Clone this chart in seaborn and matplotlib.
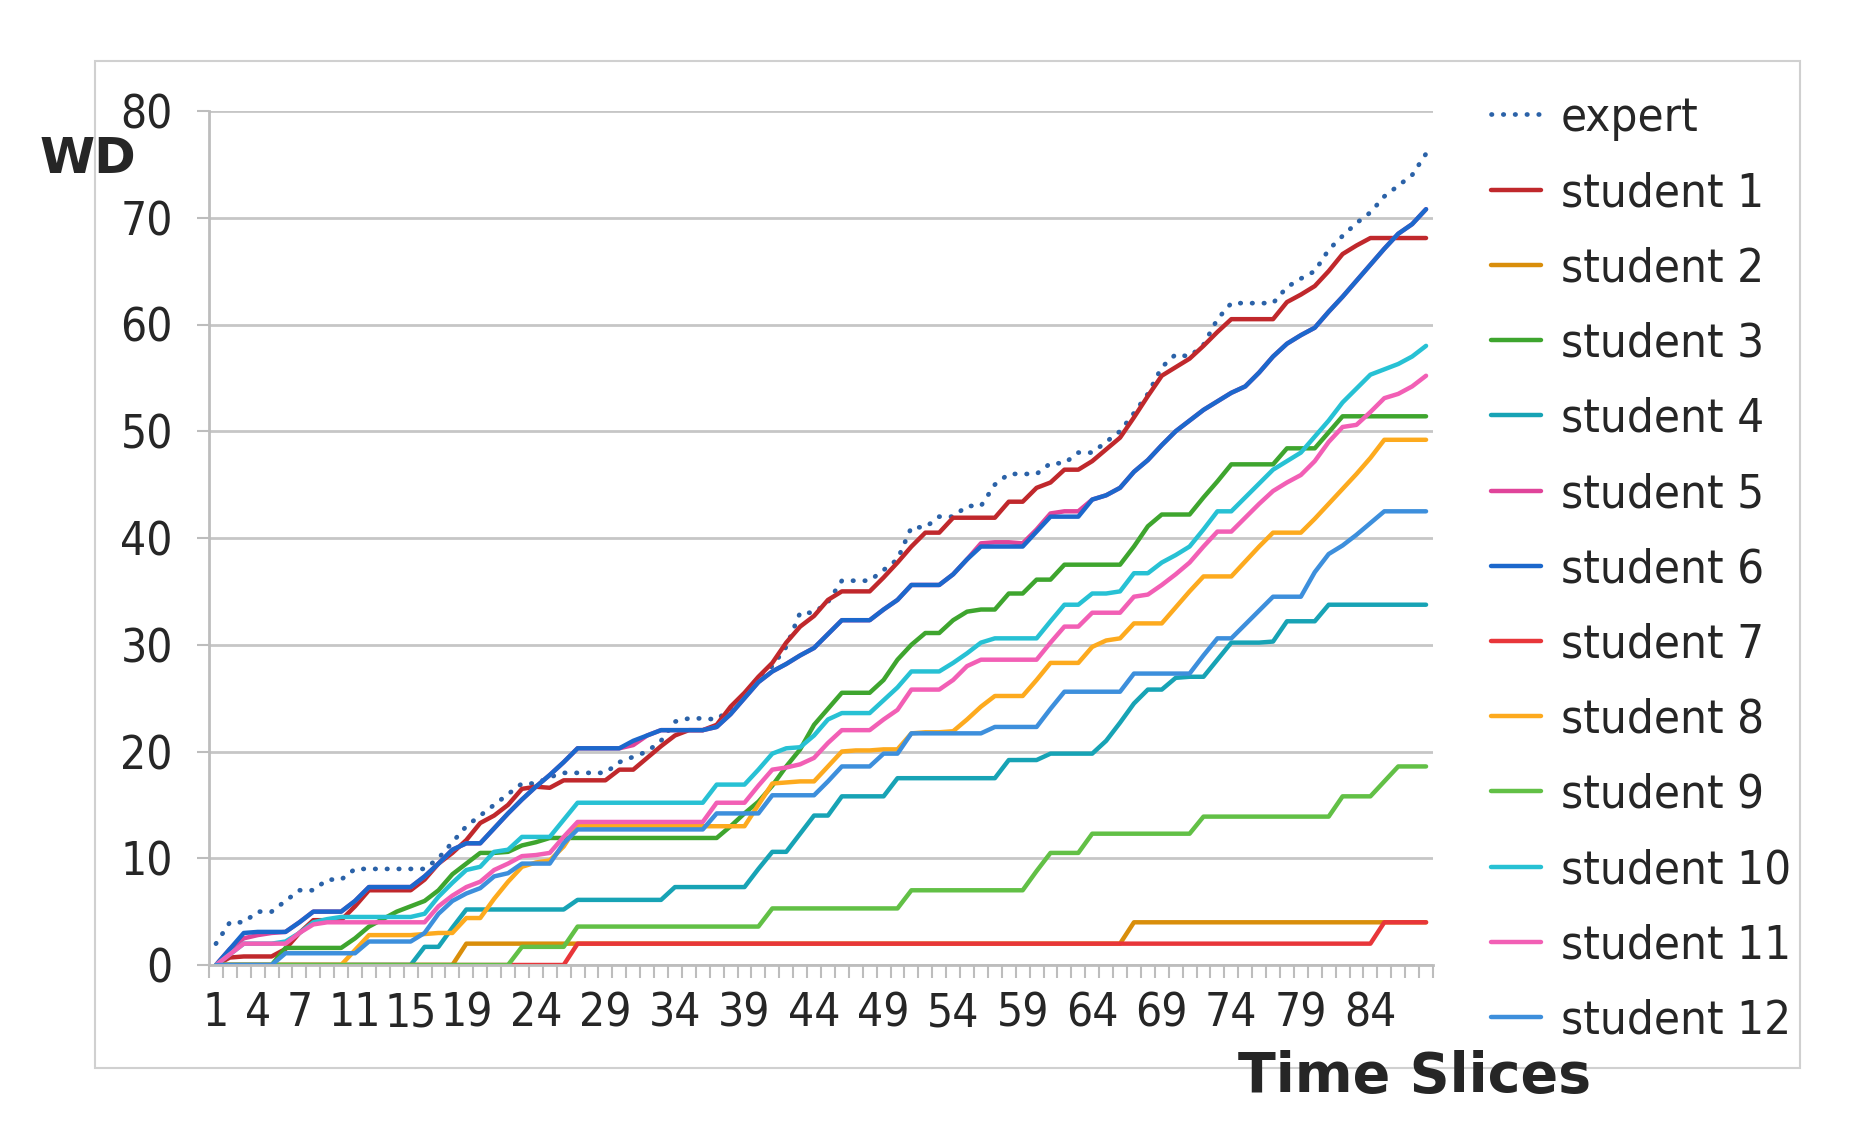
import numpy as np
import pandas as pd
import matplotlib
matplotlib.use("Agg")
import matplotlib.pyplot as plt
import seaborn as sns
from matplotlib.patches import Rectangle
from matplotlib import font_manager as fm


## time slices on the category axis
slices = list(range(1, 89))
tick_slices = [1, 4, 7, 11, 15, 19, 24, 29, 34, 39, 44, 49, 54, 59, 64, 69, 74, 79, 84]

## WD values per time slice
expert = [2, 4, 4, 5, 5, 6, 7, 7, 8, 8,
          9, 9, 9, 9, 9, 9, 10, 11.5, 13, 14,
          15, 16, 17, 17, 17.6, 18, 18, 18, 18, 19,
          19.5, 20, 21, 22.8, 23.1, 23.1, 23, 24, 25.2, 27,
          28, 29.8, 33, 33, 34, 36, 36, 36, 37, 38,
          41, 41, 42, 42, 43, 43, 45, 46, 46, 46,
          47, 47, 48, 48, 49, 50, 51.7, 53.5, 56, 57.2,
          57, 58.1, 60.5, 62, 62, 62, 62, 63.5, 64.3, 65,
          67, 68.3, 69.5, 70.5, 72, 73, 74, 76]

student1 = [0, 0.7, 0.8, 0.8, 0.8, 1.5, 3, 4.2, 4.2, 4.2,
            5.5, 7, 7, 7, 7, 8, 9.5, 10.5, 11.7, 13.3,
            14, 15, 16.5, 16.7, 16.6, 17.3, 17.3, 17.3, 17.3, 18.3,
            18.3, 19.4, 20.5, 21.5, 22, 22, 22.5, 24.2, 25.5, 27,
            28.3, 30.2, 31.7, 32.7, 34.2, 35, 35, 35, 36.3, 37.7,
            39.2, 40.5, 40.5, 41.9, 41.9, 41.9, 41.9, 43.4, 43.4, 44.7,
            45.2, 46.4, 46.4, 47.2, 48.3, 49.4, 51.3, 53.3, 55.2, 56,
            56.8, 58, 59.3, 60.5, 60.5, 60.5, 60.5, 62.1, 62.8, 63.6,
            65, 66.6, 67.4, 68.1, 68.1, 68.1, 68.1, 68.1]

student2 = [0] * 18 + [2] * 48 + [4] * 22

student3 = [0, 0, 0, 0, 0, 1.6, 1.6, 1.6, 1.6, 1.6,
            2.5, 3.6, 4.3, 5, 5.5, 6, 7, 8.5, 9.5, 10.5,
            10.5, 10.6, 11.2, 11.5, 11.9, 11.9, 11.9, 11.9, 11.9, 11.9,
            11.9, 11.9, 11.9, 11.9, 11.9, 11.9, 11.9, 13, 14.2, 15.3,
            16.8, 18.6, 20.2, 22.5, 24, 25.5, 25.5, 25.5, 26.7, 28.6,
            30, 31.1, 31.1, 32.3, 33.1, 33.3, 33.3, 34.8, 34.8, 36.1,
            36.1, 37.5, 37.5, 37.5, 37.5, 37.5, 39.2, 41.1, 42.2, 42.2,
            42.2, 43.8, 45.3, 46.9, 46.9, 46.9, 46.9, 48.4, 48.4, 48.4,
            49.9, 51.4, 51.4, 51.4, 51.4, 51.4, 51.4, 51.4]

student4 = [0, 0, 0, 0, 0, 0, 0, 0, 0, 0,
            0, 0, 0, 0, 0, 1.7, 1.7, 3.5, 5.2, 5.2,
            5.2, 5.2, 5.2, 5.2, 5.2, 5.2, 6.1, 6.1, 6.1, 6.1,
            6.1, 6.1, 6.1, 7.3, 7.3, 7.3, 7.3, 7.3, 7.3, 9,
            10.6, 10.6, 12.3, 14, 14, 15.8, 15.8, 15.8, 15.8, 17.5,
            17.5, 17.5, 17.5, 17.5, 17.5, 17.5, 17.5, 19.2, 19.2, 19.2,
            19.8, 19.8, 19.8, 19.8, 21, 22.7, 24.5, 25.8, 25.8, 26.9,
            27, 27, 28.6, 30.2, 30.2, 30.2, 30.3, 32.2, 32.2, 32.2,
            33.75, 33.75, 33.75, 33.75, 33.75, 33.75, 33.75, 33.75]

student5 = [0, 1.5, 2.5, 2.8, 3, 3.1, 4, 5, 5, 5,
            6, 7.3, 7.3, 7.3, 7.3, 8.3, 9.5, 10.8, 11.4, 11.4,
            12.8, 14.2, 15.5, 16.7, 17.8, 19, 20.3, 20.3, 20.3, 20.3,
            20.6, 21.5, 22, 22, 22, 22, 22.3, 23.5, 25, 26.5,
            27.5, 28.2, 29, 29.7, 31, 32.3, 32.3, 32.3, 33.3, 34.2,
            35.6, 35.6, 35.6, 36.6, 38, 39.5, 39.6, 39.6, 39.5, 40.8,
            42.3, 42.5, 42.5, 43.6, 44, 44.7, 46.2, 47.3, 48.7, 50,
            51, 52, 52.8, 53.6, 54.2, 55.5, 57, 58.2, 59, 59.7,
            61.2, 62.6, 64.1, 65.6, 67.1, 68.5, 69.4, 70.8]

student6 = [0, 1.5, 3, 3.1, 3.1, 3.1, 4, 5, 5, 5,
            6, 7.3, 7.3, 7.3, 7.3, 8.3, 9.5, 10.8, 11.4, 11.4,
            12.8, 14.2, 15.5, 16.7, 17.8, 19, 20.3, 20.3, 20.3, 20.3,
            21, 21.5, 22, 22, 22, 22, 22.3, 23.5, 25, 26.5,
            27.5, 28.2, 29, 29.7, 31, 32.3, 32.3, 32.3, 33.3, 34.2,
            35.6, 35.6, 35.6, 36.6, 38, 39.2, 39.2, 39.2, 39.2, 40.6,
            42, 42, 42, 43.6, 44, 44.7, 46.2, 47.3, 48.7, 50,
            51, 52, 52.8, 53.6, 54.2, 55.5, 57, 58.2, 59, 59.7,
            61.2, 62.6, 64.1, 65.6, 67.1, 68.5, 69.4, 70.8]

student7 = [0] * 26 + [2] * 58 + [4] * 4

student8 = [0, 0, 0, 0, 0, 0, 0, 0, 0, 0,
            1.4, 2.8, 2.8, 2.8, 2.8, 2.9, 3, 3, 4.4, 4.4,
            6.2, 7.8, 9.2, 9.6, 9.8, 11.1, 13.1, 13, 13, 13,
            13, 13, 13, 13, 13, 13, 13, 13, 13, 15,
            17, 17.1, 17.2, 17.2, 18.6, 20, 20.1, 20.1, 20.2, 20.2,
            21.7, 21.8, 21.8, 21.9, 23, 24.2, 25.2, 25.2, 25.2, 26.7,
            28.3, 28.3, 28.3, 29.8, 30.4, 30.6, 32, 32, 32, 33.5,
            35, 36.4, 36.4, 36.4, 37.8, 39.2, 40.5, 40.5, 40.5, 41.8,
            43.2, 44.6, 46, 47.5, 49.2, 49.2, 49.2, 49.2]

student9 = [0] * 22 + [1.7] * 4 + [3.6] * 14 + [5.3] * 10 + [7] * 9 + \
           [8.8, 10.5, 10.5, 10.5] + [12.3] * 8 + [13.9] * 10 + \
           [15.8, 15.8, 15.8, 17.2, 18.6, 18.6, 18.6]

student10 = [0, 1, 2, 2, 2, 2.2, 3, 4, 4.3, 4.5,
             4.5, 4.5, 4.5, 4.5, 4.5, 4.8, 6.4, 7.7, 8.9, 9.2,
             10.6, 10.8, 12, 12, 12, 13.6, 15.2, 15.2, 15.2, 15.2,
             15.2, 15.2, 15.2, 15.2, 15.2, 15.2, 16.9, 16.9, 16.9, 18.3,
             19.8, 20.3, 20.4, 21.5, 23, 23.6, 23.6, 23.6, 24.8, 26,
             27.5, 27.5, 27.5, 28.3, 29.2, 30.2, 30.6, 30.6, 30.6, 30.6,
             32.2, 33.75, 33.75, 34.8, 34.8, 35, 36.7, 36.7, 37.7, 38.4,
             39.2, 40.8, 42.5, 42.5, 43.8, 45.1, 46.4, 47.2, 48, 49.5,
             51, 52.7, 54, 55.3, 55.8, 56.3, 57, 58]

student11 = [0, 1, 2, 2, 2, 2, 3, 3.8, 4, 4,
             4, 4, 4, 4, 4, 4, 5.5, 6.5, 7.3, 7.8,
             8.9, 9.5, 10.2, 10.3, 10.5, 12, 13.4, 13.4, 13.4, 13.4,
             13.4, 13.4, 13.4, 13.4, 13.4, 13.4, 15.2, 15.2, 15.2, 16.8,
             18.3, 18.5, 18.8, 19.4, 20.8, 22, 22, 22, 23, 23.9,
             25.8, 25.8, 25.8, 26.7, 28, 28.6, 28.6, 28.6, 28.6, 28.6,
             30.2, 31.7, 31.7, 33, 33, 33, 34.5, 34.7, 35.6, 36.6,
             37.7, 39.2, 40.6, 40.6, 41.9, 43.2, 44.4, 45.2, 45.9, 47.2,
             49, 50.4, 50.6, 51.8, 53.1, 53.5, 54.2, 55.2]

student12 = [0, 0, 0, 0, 0, 1.1, 1.1, 1.1, 1.1, 1.1,
             1.1, 2.2, 2.2, 2.2, 2.2, 3, 4.8, 6, 6.7, 7.2,
             8.3, 8.6, 9.5, 9.5, 9.5, 11.4, 12.7, 12.7, 12.7, 12.7,
             12.7, 12.7, 12.7, 12.7, 12.7, 12.7, 14.2, 14.2, 14.2, 14.2,
             15.9, 15.9, 15.9, 15.9, 17.2, 18.6, 18.6, 18.6, 19.8, 19.8,
             21.7, 21.7, 21.7, 21.7, 21.7, 21.7, 22.3, 22.3, 22.3, 22.3,
             24, 25.6, 25.6, 25.6, 25.6, 25.6, 27.3, 27.3, 27.3, 27.3,
             27.3, 29, 30.6, 30.6, 31.9, 33.2, 34.5, 34.5, 34.5, 36.8,
             38.5, 39.3, 40.3, 41.4, 42.5, 42.5, 42.5, 42.5]

names = ["expert"] + ["student %d" % k for k in range(1, 13)]
series = [expert, student1, student2, student3, student4, student5, student6,
          student7, student8, student9, student10, student11, student12]
colors = ["#2b62a8", "#c0282c", "#d98e0b", "#3ea52e", "#17a3b5", "#e0449a",
          "#1c68cc", "#e8363a", "#fdaa1e", "#62c046", "#27c1d4", "#f25fb5",
          "#3d8fdc"]


sns.set_style("white")

## the chart uses a narrow face; take a condensed one if the box has it
pref = ["DejaVu Sans", "Noto Sans", "Open Sans", "Roboto", "Liberation Sans"]
cond = [f.name for f in fm.fontManager.ttflist
        if f.stretch in ("condensed", "semi-condensed", "extra-condensed")
        or "Narrow" in f.name or "Condensed" in f.name]
cond_fam = None
for p in pref:
    hits = [n for n in cond if n.startswith(p)]
    if hits:
        cond_fam = hits[0]
        break
if cond_fam is None and cond:
    cond_fam = cond[0]

if cond_fam:
    plt.rcParams['font.family'] = [cond_fam, 'DejaVu Sans']
    plt.rcParams['font.stretch'] = 'condensed'
    tick_fs, leg_fs = 33, 34
else:
    plt.rcParams['font.family'] = ['DejaVu Sans']
    tick_fs, leg_fs = 28, 30

W, H = 1851, 1146
fig = plt.figure(figsize=(W / 100, H / 100), dpi=100)
ax = fig.add_axes([209 / W, 1 - 965 / H, (1433 - 209) / W, (965 - 111) / H])

for name, vals, col in zip(names, series, colors):
    if name == "expert":
        sns.lineplot(x=slices, y=vals, ax=ax, color=col, lw=3.4, label=name,
                     linestyle=(0, (0.1, 2.4)), dash_capstyle="round")
    else:
        sns.lineplot(x=slices, y=vals, ax=ax, color=col, lw=3.2, label=name)

## axes look (Excel style)
ax.set_xlim(0.5, 88.5)
ax.set_ylim(0, 80)
ax.set_yticks(range(0, 81, 10))
ax.set_xticks(tick_slices)
ax.set_xticklabels([str(t) for t in tick_slices])
ax.set_xticks(np.arange(0.5, 89, 1), minor=True)
ax.set_xlabel("")
ax.set_ylabel("")

ax.yaxis.grid(True, color="#c6c6c6", lw=2)
ax.xaxis.grid(False)
ax.set_axisbelow(True)
for s in ["top", "right"]:
    ax.spines[s].set_visible(False)
for s in ["left", "bottom"]:
    ax.spines[s].set_color("#bdbdbd")
    ax.spines[s].set_linewidth(2)

ax.tick_params(axis="y", which="major", length=9, width=1.5, color="#bdbdbd",
               labelsize=tick_fs, pad=17, left=True)
ax.tick_params(axis="x", which="major", length=0, labelsize=tick_fs, pad=19)
ax.tick_params(axis="x", which="minor", length=9, width=1.5, color="#bdbdbd",
               bottom=True, direction="out")

## legend on the right
ax.legend(loc="upper left", bbox_to_anchor=(1491 / W, 1 - 96 / H),
          bbox_transform=fig.transFigure, frameon=False, fontsize=leg_fs,
          handlelength=1.06, handletextpad=0.42, labelspacing=0.64,
          borderpad=0, borderaxespad=0)

## axis titles
fig.text(40 / W, 1 - 173 / H, "WD", fontsize=36, fontweight="bold",
         family="DejaVu Sans", fontstretch="normal", va="baseline", ha="left")
fig.text(1238 / W, 1 - 1092 / H, "Time Slices", fontsize=40, fontweight="bold",
         family="DejaVu Sans", fontstretch="normal", va="baseline", ha="left",
         zorder=5)

## outer chart frame
fig.add_artist(Rectangle((95 / W, 1 - 1068 / H), (1800 - 95) / W, (1068 - 61) / H,
                         transform=fig.transFigure, fill=False,
                         ec="#d0d0d0", lw=1.5, zorder=0))

fig.savefig("out.png", dpi=100)
